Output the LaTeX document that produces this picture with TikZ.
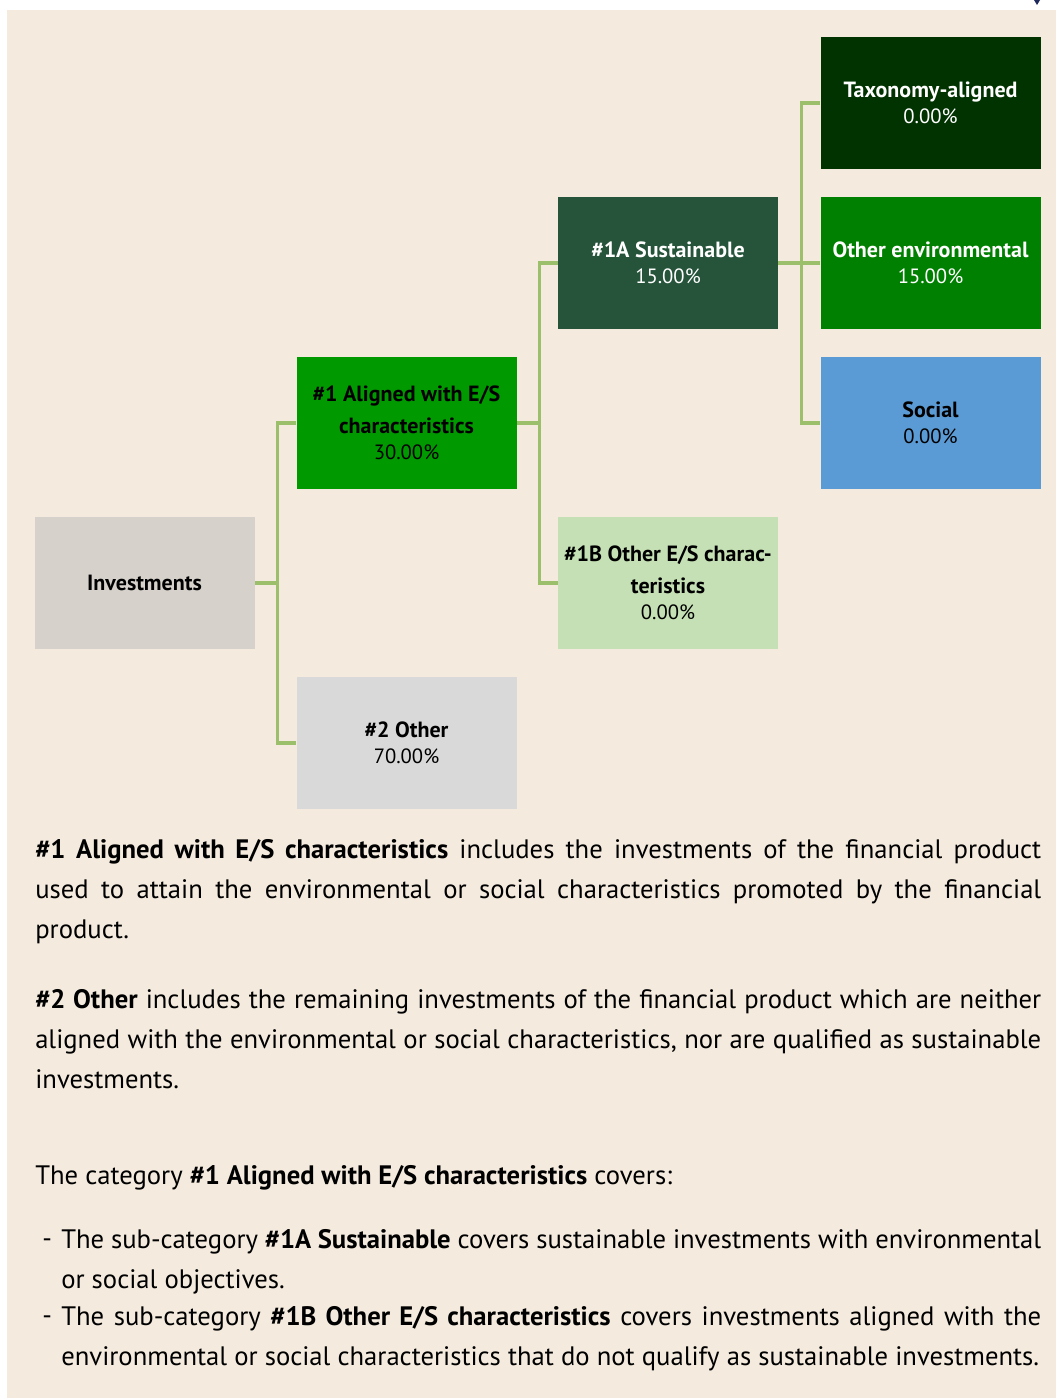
\documentclass[tikz,border=0pt]{standalone}
\usepackage{fontspec}
\setmainfont{PT Sans}
\usetikzlibrary{calc}
\definecolor{bgc}{HTML}{F4EBDE}
\definecolor{taxc}{HTML}{003300}
\definecolor{envc}{HTML}{008000}
\definecolor{sac}{HTML}{25543A}
\definecolor{alc}{HTML}{009900}
\definecolor{sbc}{HTML}{C5E0B4}
\definecolor{invc}{HTML}{D6D1CB}
\definecolor{othc}{HTML}{D9D9D9}
\definecolor{socc}{HTML}{5B9BD5}
\definecolor{linec}{HTML}{9BBF6B}
\definecolor{markc}{HTML}{1F2A5C}
\newcommand{\bt}[1]{{\fontsize{16.5}{19.5}\selectfont\bfseries #1}}
\newcommand{\pc}[1]{{\fontsize{15.5}{19.5}\selectfont #1}}
\begin{document}
\begin{tikzpicture}[x=0.75pt,y=-0.75pt,
  box/.style={rectangle, minimum width=165pt, minimum height=99pt, inner sep=0pt, align=center, font=\fontsize{15.5}{19.5}\selectfont},
  conn/.style={draw=linec, line width=2.3pt},
  para/.style={anchor=north west, inner sep=0pt, text width=754.5pt, align=justify, font=\fontsize{20}{30}\selectfont}
]
\useasboundingbox (0,0) rectangle (1056,1398);
\fill[white] (0,0) rectangle (1056,1398);
\fill[bgc] (7,10) rectangle (1056,1398);
\fill[markc] (1034,0) -- (1040,0) -- (1037,5) -- cycle;

\node[box, fill=invc, text=black] (inv) at (144.5,583) {\bt{Investments}};
\node[box, fill=alc, text=black] (a1) at (406.5,423) {\bt{\#1 Aligned with E/S}\\[4.5pt]\bt{characteristics}\\\pc{30.00\%}};
\node[box, fill=othc, text=black] (oth) at (406.5,743) {\bt{\#2 Other}\\\pc{70.00\%}};
\node[box, fill=sac, text=white] (sa) at (668,263) {\bt{\#1A Sustainable}\\\pc{15.00\%}};
\node[box, fill=sbc, text=black] (sb) at (668,583) {\bt{\#1B Other E/S charac-}\\[4.5pt]\bt{teristics}\\\pc{0.00\%}};
\node[box, fill=taxc, text=white] (tax) at (930.5,103) {\bt{Taxonomy-aligned}\\\pc{0.00\%}};
\node[box, fill=envc, text=white] (env) at (930.5,263) {\bt{Other environmental}\\\pc{15.00\%}};
\node[box, fill=socc, text=black] (soc) at (930.5,423) {\bt{Social}\\\pc{0.00\%}};

\draw[conn] (inv.east) -- ++(23,0) |- (a1.west);
\draw[conn] (inv.east) -- ++(23,0) |- (oth.west);
\draw[conn] (a1.east) -- ++(23,0) |- (sa.west);
\draw[conn] (a1.east) -- ++(23,0) |- (sb.west);
\draw[conn] (sa.east) -- ++(23,0) |- (tax.west);
\draw[conn] (sa.east) -- ++(23,0) |- (env.west);
\draw[conn] (sa.east) -- ++(23,0) |- (soc.west);

\node[para] (p1) at (35,839) {\textbf{\#1 Aligned with E/S characteristics} includes the investments of the financial product\linebreak used to attain the environmental or social characteristics promoted by the financial\linebreak product.};
\node[para] (p2) at (35,989) {\textbf{\#2 Other} includes the remaining investments of the financial product which are neither\linebreak aligned with the environmental or social characteristics, nor are qualified as sustainable\linebreak investments.};
\node[para] (p3) at (35,1165) {The category \textbf{\#1 Aligned with E/S characteristics} covers:};
\node[para, text width=12pt, align=left] (d1) at (42,1229) {\vphantom{Tbhy}-};
\node[para, text width=735pt] (p4) at (61,1229) {The sub-category \textbf{\#1A Sustainable} covers sustainable investments with environmental\linebreak or social objectives.};
\node[para, text width=12pt, align=left] (d2) at (42,1306) {\vphantom{Tbhy}-};
\node[para, text width=735pt] (p5) at (61,1306) {The sub-category \textbf{\#1B Other E/S characteristics} covers investments aligned with the\linebreak environmental or social characteristics that do not qualify as sustainable investments.};
\end{tikzpicture}
\end{document}
